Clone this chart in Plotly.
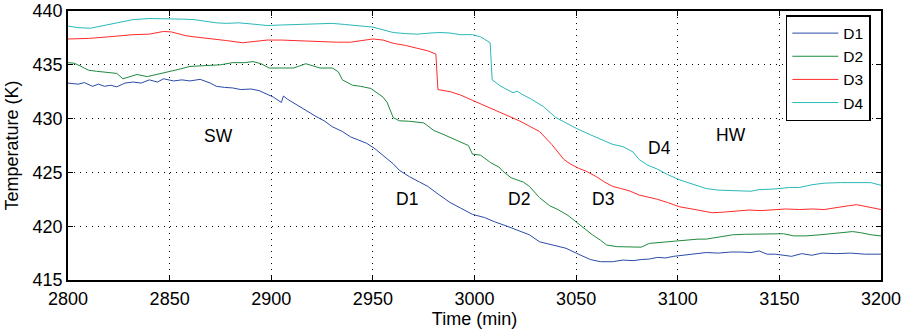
import plotly.graph_objects as go

# ---- data ----
t_d1 = [2800, 2805, 2808, 2812, 2815, 2818, 2821, 2824, 2828, 2832, 2836, 2840, 2844, 2847, 2852, 2856, 2860, 2865,
        2870, 2873, 2877, 2881, 2885, 2890, 2894, 2898, 2901, 2905, 2906, 2908, 2914, 2918, 2922, 2926, 2930, 2935,
        2939, 2943, 2947, 2951, 2955, 2960, 2963, 2968, 2973, 2977, 2982, 2988, 2993, 2999, 3005, 3010, 3016, 3022,
        3027, 3032, 3038, 3045, 3050, 3057, 3062, 3068, 3073, 3078, 3082, 3086, 3090, 3094, 3098, 3103, 3108, 3114,
        3120, 3126, 3131, 3136, 3140, 3144, 3148, 3152, 3156, 3161, 3166, 3171, 3178, 3185, 3192, 3200]
v_d1 = [433.3, 433.2, 433.35, 433.0, 433.2, 433.0, 433.1, 432.95, 433.3, 433.4, 433.3, 433.6, 433.4, 433.7, 433.5,
        433.6, 433.5, 433.65, 433.3, 433.0, 432.9, 432.85, 432.7, 432.75, 432.6, 432.3, 432.0, 431.5, 432.1, 431.8,
        431.1, 430.7, 430.2, 429.8, 429.25, 428.8, 428.3, 428.0, 427.7, 427.2, 426.6, 425.8, 425.2, 424.6, 424.1,
        423.7, 423.0, 422.2, 421.7, 421.1, 420.8, 420.4, 420.0, 419.6, 419.2, 418.55, 418.3, 417.95, 417.5, 416.9,
        416.7, 416.7, 416.85, 416.8, 416.9, 416.95, 417.1, 417.05, 417.2, 417.3, 417.4, 417.55, 417.5, 417.6, 417.6,
        417.55, 417.7, 417.4, 417.4, 417.3, 417.2, 417.45, 417.3, 417.5, 417.45, 417.5, 417.4, 417.4]

t_d2 = [2800, 2803, 2806, 2810, 2814, 2820, 2824, 2827, 2830, 2834, 2839, 2844, 2849, 2855, 2860, 2865, 2870, 2875,
        2881, 2887, 2891, 2895, 2899, 2905, 2911, 2917, 2920, 2924, 2930, 2933, 2935, 2940, 2944, 2949, 2952, 2955,
        2957, 2960, 2963, 2968, 2975, 2980, 2985, 2990, 2993, 2997, 2999, 3003, 3008, 3012, 3014, 3018, 3021, 3024,
        3027, 3032, 3037, 3041, 3046, 3050, 3054, 3058, 3062, 3065, 3070, 3076, 3082, 3086, 3092, 3098, 3104, 3110,
        3114, 3120, 3127, 3133, 3140, 3147, 3152, 3157, 3163, 3170, 3178, 3186, 3190, 3195, 3200]
v_d2 = [435.2, 435.15, 434.9, 434.5, 434.4, 434.3, 434.2, 433.7, 433.9, 434.1, 433.9, 434.1, 434.35, 434.6, 434.85,
        434.9, 434.9, 435.0, 435.2, 435.2, 435.3, 435.1, 434.7, 434.7, 434.7, 435.1, 434.95, 434.7, 434.7, 434.35,
        433.6, 433.1, 433.0, 432.8, 432.4, 432.0, 431.5, 430.1, 429.8, 429.75, 429.6, 428.9, 428.5, 428.1, 427.8,
        427.5, 426.7, 426.6, 425.9, 425.5, 425.1, 424.5, 424.3, 424.1, 423.7, 422.65, 421.9, 421.55, 421.0, 420.4,
        419.8, 419.2, 418.7, 418.25, 418.1, 418.05, 418.05, 418.4, 418.5, 418.6, 418.75, 418.8, 418.8, 419.0, 419.2,
        419.25, 419.25, 419.3, 419.3, 419.1, 419.1, 419.2, 419.35, 419.5, 419.4, 419.2, 419.1]

t_d3 = [2800, 2810, 2820, 2832, 2840, 2847, 2851, 2854, 2858, 2862, 2870, 2878, 2886, 2892, 2898, 2905, 2912, 2917,
        2925, 2932, 2939, 2945, 2950, 2955, 2960, 2966, 2972, 2977, 2981, 2982, 2988, 2993, 2999, 3005, 3010, 3016,
        3022, 3027, 3032, 3038, 3044, 3047, 3051, 3055, 3060, 3064, 3068, 3072, 3076, 3081, 3086, 3090, 3095, 3101,
        3107, 3112, 3117, 3122, 3128, 3135, 3141, 3147, 3153, 3160, 3166, 3172, 3178, 3184, 3188, 3193, 3200]
v_d3 = [437.4, 437.45, 437.6, 437.8, 437.85, 438.1, 438.05, 437.9, 437.7, 437.6, 437.45, 437.25, 437.05, 437.2, 437.3,
        437.3, 437.25, 437.15, 437.1, 437.1, 437.1, 437.3, 437.4, 437.3, 437.0, 436.8, 436.5, 436.3, 436.0, 432.7,
        432.5, 432.2, 431.7, 431.2, 430.8, 430.3, 429.8, 429.3, 428.8, 427.6, 426.2, 425.8, 425.4, 425.1, 424.6,
        424.1, 423.7, 423.5, 423.3, 422.9, 422.7, 422.5, 422.2, 421.8, 421.6, 421.4, 421.25, 421.3, 421.4, 421.5,
        421.45, 421.5, 421.6, 421.55, 421.6, 421.55, 421.75, 421.9, 422.0, 421.8, 421.55]

t_d4 = [2800, 2805, 2811, 2816, 2822, 2827, 2832, 2840, 2847, 2855, 2862, 2868, 2873, 2878, 2884, 2890, 2898, 2905,
        2912, 2920, 2925, 2930, 2936, 2943, 2950, 2955, 2960, 2966, 2972, 2978, 2983, 2988, 2993, 2999, 3003, 3007.7,
        3008.7, 3013, 3019, 3021, 3023, 3028, 3034, 3040, 3045, 3050, 3057, 3063, 3068, 3073, 3078, 3081, 3085, 3090,
        3095, 3101, 3107, 3114, 3120, 3126, 3131, 3136, 3140, 3147, 3155, 3160, 3166, 3172, 3180, 3188, 3195, 3200]
v_d4 = [438.6, 438.45, 438.4, 438.6, 438.85, 439.05, 439.2, 439.3, 439.3, 439.25, 439.2, 439.05, 438.9, 438.85, 438.9,
        438.8, 438.65, 438.7, 438.75, 438.8, 438.85, 438.85, 438.75, 438.65, 438.5, 438.25, 438.0, 437.9, 437.85,
        437.95, 438.0, 437.95, 437.8, 437.8, 437.6, 437.05, 433.6, 433.0, 432.4, 432.55, 432.3, 431.8, 431.1, 430.1,
        429.6, 429.1, 428.5, 428.0, 427.6, 427.4, 426.9, 426.2, 425.7, 425.3, 424.8, 424.3, 423.9, 423.5, 423.35,
        423.3, 423.3, 423.25, 423.4, 423.45, 423.6, 423.6, 423.85, 424.0, 424.05, 424.05, 424.05, 423.8]

series_names = ["D1", "D2", "D3", "D4"]
series_colors = ["#2b4ba8", "#1f8a3e", "#ff2a2a", "#2ab8b8"]

label_text = ["SW", "D1", "D2", "D3", "D4", "HW"]
label_x = [2874, 2967, 3022, 3063, 3091, 3126]
label_y = [428.4, 422.5, 422.5, 422.5, 427.3, 428.5]

x_ticks = [2800, 2850, 2900, 2950, 3000, 3050, 3100, 3150, 3200]
y_ticks = [415, 420, 425, 430, 435, 440]

FONT = "Liberation Sans, Arial, Helvetica, sans-serif"

fig = go.Figure()
for t, v, name, col in zip([t_d1, t_d2, t_d3, t_d4], [v_d1, v_d2, v_d3, v_d4], series_names, series_colors):
    fig.add_trace(go.Scatter(x=t, y=v, mode="lines", name=name,
                             line=dict(color=col, width=1)))

for txt, lx, ly in zip(label_text, label_x, label_y):
    fig.add_annotation(x=lx, y=ly, text=txt, showarrow=False,
                       font=dict(family=FONT, size=17.5, color="black"))

axis_common = dict(
    showline=True, linecolor="black", linewidth=1.5, mirror="allticks",
    ticks="inside", ticklen=5, tickcolor="black", tickwidth=1,
    showgrid=True, gridcolor="black", gridwidth=1, griddash="1px,5px",
    zeroline=False, tickfont=dict(family=FONT, size=18, color="black"),
    automargin=False,
)

fig.update_xaxes(range=[2800, 3200], tickvals=x_ticks, ticklabelstandoff=2,
                 title=dict(text="Time (min)", font=dict(family=FONT, size=18, color="black"), standoff=0),
                 **axis_common)
fig.update_yaxes(range=[415, 440], tickvals=y_ticks,
                 title=dict(text="Temperature (K)", font=dict(family=FONT, size=18, color="black"), standoff=9),
                 **axis_common)

fig.update_layout(
    width=906, height=330,
    margin=dict(l=68, r=25, t=11, b=50),
    paper_bgcolor="white", plot_bgcolor="white",
    font=dict(family=FONT, color="black"),
    legend=dict(x=0.9875, y=0.985, xanchor="right", yanchor="top",
                bgcolor="white", bordercolor="black", borderwidth=1.5,
                font=dict(family=FONT, size=15.5, color="black"),
                tracegroupgap=0, itemwidth=46),
    showlegend=True,
)

fig.write_html("out.html")
